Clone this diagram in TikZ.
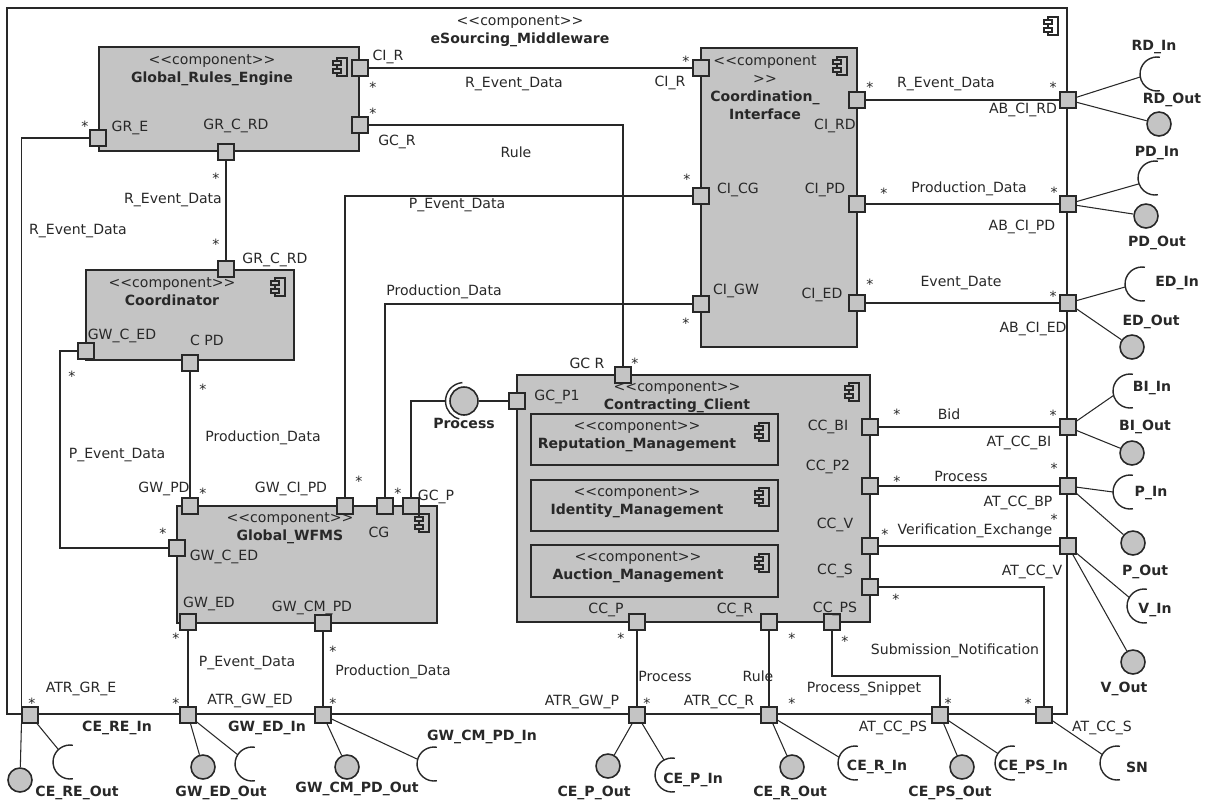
\documentclass[tikz,border=0pt]{standalone}
\usepackage{fontspec}
\setmainfont{DejaVu Sans}
\usetikzlibrary{fit,positioning}
\definecolor{umlgray}{RGB}{196,196,196}
\definecolor{umlline}{RGB}{40,40,40}
\newcommand{\stereo}[1]{<{}<#1>{}>}

\begin{document}
\begin{tikzpicture}[x=0.02cm,y=-0.02cm,
    every node/.style={font=\fontsize{8}{10.2}\selectfont,text=umlline},
    comp/.style={draw=umlline,fill=umlgray,line width=1pt,inner sep=0pt},
    port/.style={draw=umlline,fill=umlgray,line width=0.9pt,minimum size=0.31cm,inner sep=0pt},
    ball/.style={circle,draw=umlline,fill=umlgray,line width=0.9pt,minimum size=0.48cm,inner sep=0pt},
    ifc/.style={font=\fontsize{8}{10.2}\selectfont\bfseries,inner sep=1pt},
    mult/.style={inner sep=0pt,yshift=-1.6pt},
    link/.style={draw=umlline,line width=0.6pt},
    pics/compicon/.style={code={
      \draw[pic actions,draw=umlline,line width=0.8pt] (-4,-9) rectangle (6,9);
      \draw[pic actions,draw=umlline,line width=0.8pt] (-8,-6) rectangle (0,-2);
      \draw[pic actions,draw=umlline,line width=0.8pt] (-8,2) rectangle (0,6);}},
    pics/socket/.style={code={
      \draw[umlline,line width=0.8pt] (80:0.34cm) arc[start angle=80,end angle=280,radius=0.34cm];
      \coordinate (-tip) at (#1:0.34cm);}}]
  \useasboundingbox (0,0) rectangle (1213,802);

  % Rahmen eSourcing_Middleware
  \node[comp,fill=white,line width=0.6pt,fit={(7,8) (1067,714)}] (mw) {};
  \node[align=center] (mwT) at (520,31) {\stereo{component}\\\textbf{eSourcing\_Middleware}};
  \pic[fill=white] at (1052,26) {compicon};

  % Komponenten
  \node[comp,fit={(99,47) (359,151)}] (gre) {};
  \node[align=center] (greT) at (212,70) {\stereo{component}\\\textbf{Global\_Rules\_Engine}};
  \pic[fill=umlgray] at (341,67) {compicon};

  \node[comp,fit={(86,270) (294,360)}] (crd) {};
  \node[align=center] (crdT) at (172,292) {\stereo{component}\\\textbf{Coordinator}};
  \pic[fill=umlgray] at (279,287) {compicon};

  \node[comp,fit={(701,48) (857,347)}] (ci) {};
  \node[align=center] (ciT) at (765,88) {<{}<component\\>{}>\\\textbf{Coordination\_}\\\textbf{Interface}};
  \pic[fill=umlgray] at (841,66) {compicon};

  \node[comp,fit={(177,506) (437,623)}] (gw) {};
  \node[align=center] (gwT) at (290,528) {\stereo{component}\\\textbf{Global\_WFMS}};
  \pic[fill=umlgray] at (423,523) {compicon};

  \node[comp,fit={(517,375) (870,622)}] (cc) {};
  \node[align=center] (ccT) at (677,397) {\stereo{component}\\\textbf{Contracting\_Client}};
  \pic[fill=umlgray] at (853,392) {compicon};

  \node[comp,fit={(531,414) (778,465)}] (rep) {};
  \node[align=center] (repT) at (637,436) {\stereo{component}\\\textbf{Reputation\_Management}};
  \pic[fill=umlgray] at (763,432) {compicon};
  \node[comp,fit={(531,480) (778,531)}] (idm) {};
  \node[align=center] (idmT) at (637,502) {\stereo{component}\\\textbf{Identity\_Management}};
  \pic[fill=umlgray] at (763,497) {compicon};
  \node[comp,fit={(531,545) (778,597)}] (auc) {};
  \node[align=center] (aucT) at (638,567) {\stereo{component}\\\textbf{Auction\_Management}};
  \pic[fill=umlgray] at (763,563) {compicon};

  % Ports
  \node[port] (greCIR) at (360,68) {};
  \node[port] (greGCR) at (360,125) {};
  \node[port] (greGRE) at (98,138) {};
  \node[port] (greGRCRD) at (226,152) {};
  \node[port] (crdGRCRD) at (226,269) {};
  \node[port] (crdGWCED) at (86,351) {};
  \node[port] (crdCPD) at (190,363) {};
  \node[port] (ciCIR) at (701,68) {};
  \node[port] (ciCG) at (701,196) {};
  \node[port] (ciGW) at (701,304) {};
  \node[port] (ciRD) at (857,100) {};
  \node[port] (ciPD) at (857,204) {};
  \node[port] (ciED) at (857,303) {};
  \node[port] (gwPD) at (190,506) {};
  \node[port] (gwCIPD) at (345,506) {};
  \node[port] (gwCG) at (385,506) {};
  \node[port] (gwGCP) at (411,506) {};
  \node[port] (gwCED) at (177,548) {};
  \node[port] (gwED) at (188,622) {};
  \node[port] (gwCMPD) at (323,623) {};
  \node[port] (ccGCR) at (623,375) {};
  \node[port] (ccGCP1) at (517,401) {};
  \node[port] (ccBI) at (870,427) {};
  \node[port] (ccP2) at (870,486) {};
  \node[port] (ccV) at (870,546) {};
  \node[port] (ccS) at (870,587) {};
  \node[port] (ccPS) at (832,622) {};
  \node[port] (ccP) at (637,622) {};
  \node[port] (ccR) at (769,622) {};
  % Ports am Rahmen
  \node[port] (abRD) at (1068,100) {};
  \node[port] (abPD) at (1068,204) {};
  \node[port] (abED) at (1068,303) {};
  \node[port] (atBI) at (1068,427) {};
  \node[port] (atBP) at (1068,486) {};
  \node[port] (atV) at (1068,546) {};
  \node[port] (atS) at (1044,715) {};
  \node[port] (atPS) at (940,715) {};
  \node[port] (atrCCR) at (769,715) {};
  \node[port] (atrGWP) at (637,715) {};
  \node[port] (atrGWCMPD) at (323,715) {};
  \node[port] (atrGWED) at (188,715) {};
  \node[port] (atrGRE) at (30,715) {};

  % Verbindungen innen
  \draw[link] (greCIR) -- (ciCIR);
  \draw[link] (greGCR) -| (ccGCR);
  \draw[link] (greGRE) -| (atrGRE.north west);
  \draw[link] (greGRCRD) -- (crdGRCRD);
  \draw[link] (crdGWCED) -- ++(-26,0) |- (gwCED);
  \draw[link] (crdCPD) -- (gwPD);
  \draw[link] (gwCIPD) |- (ciCG);
  \draw[link] (gwCG) |- (ciGW);
  \draw[link] (ciRD) -- (abRD);
  \draw[link] (ciPD) -- (abPD);
  \draw[link] (ciED) -- (abED);
  \draw[link] (ccBI) -- (atBI);
  \draw[link] (ccP2) -- (atBP);
  \draw[link] (ccV) -- (atV);
  \draw[link] (ccS) -| (atS);
  \draw[link] (ccPS) -- ++(0,54) -| (atPS);
  \draw[link] (ccR) -- (atrCCR);
  \draw[link] (ccP) -- (atrGWP);
  \draw[link] (gwCMPD) -- (atrGWCMPD);
  \draw[link] (gwED) -- (atrGWED);

  % Process (ball and socket)
  \node[ball,minimum size=0.56cm] (procBall) at (464,401) {};
  \draw[umlline,line width=0.8pt] ([shift={(95:0.37cm)}]procBall.center) arc[start angle=95,end angle=255,radius=0.37cm];
  \coordinate (procTip) at ([shift={(180:0.37cm)}]procBall.center);
  \draw[link] (gwGCP) |- (procTip);
  \draw[link] (procBall) -- (ccGCP1);

  % angebotene und benoetigte Schnittstellen
  \foreach \bx/\by/\bn in {1159/124/rdOut,1146/216/pdOut,1132/347/edOut,1132/453/biOut,
      1133/543/pOut,1133/662/vOut,962/767/cepsOut,792/767/cerOut,608/766/cepOut,
      347/767/gwcmpdOut,203/767/gwedOut,20/780/cereOut}
    \node[ball] (\bn) at (\bx,\by) {};
  \foreach \sx/\sy/\sa/\sn in {1157/74/190/rdIn,1155/178/200/pdIn,1142/284/190/edIn,
      1130/391/195/biIn,1130/492/180/pIn,1144/606/150/vIn,1117/763/150/snIn,
      1012/763/146/cepsIn,855/763/160/cerIn,672/775/118/cepIn,434/764/164/gwcmpdIn,
      252/764/147/gwedIn,70/762/133/cereIn}
    \pic (\sn) at (\sx,\sy) {socket=\sa};

  \draw[link] (abRD) -- (rdIn-tip);  \draw[link] (abRD) -- (rdOut);
  \draw[link] (abPD) -- (pdIn-tip);  \draw[link] (abPD) -- (pdOut);
  \draw[link] (abED) -- (edIn-tip);  \draw[link] (abED) -- (edOut);
  \draw[link] (atBI) -- (biIn-tip);  \draw[link] (atBI) -- (biOut);
  \draw[link] (atBP) -- (pIn-tip);   \draw[link] (atBP) -- (pOut);
  \draw[link] (atV) -- (vIn-tip);    \draw[link] (atV) -- (vOut);
  \draw[link] (atS) -- (snIn-tip);
  \draw[link] (atPS) -- (cepsIn-tip); \draw[link] (atPS) -- (cepsOut);
  \draw[link] (atrCCR) -- (cerIn-tip); \draw[link] (atrCCR) -- (cerOut);
  \draw[link] (atrGWP) -- (cepIn-tip); \draw[link] (atrGWP) -- (cepOut);
  \draw[link] (atrGWCMPD) -- (gwcmpdIn-tip); \draw[link] (atrGWCMPD) -- (gwcmpdOut);
  \draw[link] (atrGWED) -- (gwedIn-tip); \draw[link] (atrGWED) -- (gwedOut);
  \draw[link] (atrGRE) -- (cereIn-tip); \draw[link] (atrGRE.south west) -- (cereOut);

  % Portnamen
  \foreach \lx/\ly/\lt [count=\i] in {388/57/CI\_R,397/142/GC\_R,130/128/GR\_E,236/126/GR\_C\_RD,
      275/260/GR\_C\_RD,122/336/GW\_C\_ED,207/340/C PD,164/489/GW\_PD,291/489/GW\_CI\_PD,
      379/532/CG,436/497/GC\_P,224/557/GW\_C\_ED,209/604/GW\_ED,312/608/GW\_CM\_PD,
      587/363/GC R,557/397/GC\_P1,828/427/CC\_BI,828/467/CC\_P2,835/525/CC\_V,835/571/CC\_S,
      835/609/CC\_PS,606/610/CC\_P,735/610/CC\_R,670/83/CI\_R,738/190/CI\_CG,736/291/CI\_GW,
      835/126/CI\_RD,825/190/CI\_PD,822/295/CI\_ED,1023/110/AB\_CI\_RD,1022/227/AB\_CI\_PD,
      1033/329/AB\_CI\_ED,1019/443/AT\_CC\_BI,1018/503/AT\_CC\_BP,1032/572/AT\_CC\_V,
      1102/728/AT\_CC\_S,893/728/AT\_CC\_PS,719/702/ATR\_CC\_R,582/702/ATR\_GW\_P,
      250/701/ATR\_GW\_ED,81/689/ATR\_GR\_E}
    \node[inner sep=1pt] (pl\i) at (\lx,\ly) {\lt};

  % Beschriftung der Verbindungen
  \foreach \lx/\ly/\lt [count=\i] in {173/200/R\_Event\_Data,78/231/R\_Event\_Data,
      514/84/R\_Event\_Data,946/84/R\_Event\_Data,516/152/Rule,758/676/Rule,
      457/205/P\_Event\_Data,117/455/P\_Event\_Data,247/663/P\_Event\_Data,
      444/292/Production\_Data,263/438/Production\_Data,393/672/Production\_Data,
      969/189/Production\_Data,961/283/Event\_Date,949/414/Bid,961/476/Process,
      665/676/Process,975/531/Verification\_Exchange,955/651/Submission\_Notification,
      864/689/Process\_Snippet}
    \node[inner sep=1pt] (cl\i) at (\lx,\ly) {\lt};

  % Schnittstellennamen
  \foreach \lx/\ly/\lt [count=\i] in {1154/47/RD\_In,1172/100/RD\_Out,1157/153/PD\_In,
      1157/243/PD\_Out,1177/283/ED\_In,1151/322/ED\_Out,1152/388/BI\_In,1145/427/BI\_Out,
      1151/493/P\_In,1145/572/P\_Out,1155/610/V\_In,1124/689/V\_Out,1137/767/SN,
      1033/767/CE\_PS\_In,950/793/CE\_PS\_Out,877/767/CE\_R\_In,790/793/CE\_R\_Out,
      693/780/CE\_P\_In,594/793/CE\_P\_Out,482/737/GW\_CM\_PD\_In,357/789/GW\_CM\_PD\_Out,
      267/728/GW\_ED\_In,221/793/GW\_ED\_Out,117/728/CE\_RE\_In,77/793/CE\_RE\_Out,
      464/423/Process}
    \node[ifc] (il\i) at (\lx,\ly) {\lt};

  % Multiplizitaeten
  \foreach \mx/\my [count=\i] in {373/84,373/110,85/123,216/175,216/241,72/373,203/386,
      203/490,359/478,398/490,163/530,176/635,333/648,686/58,687/176,686/320,635/360,
      870/84,884/190,870/281,1053/84,1054/189,1053/293,897/411,1053/412,897/478,1054/465,
      885/531,1054/516,896/596,845/638,621/635,792/635,647/700,792/700,948/700,1028/700,
      333/700,176/700,32/700}
    \node[mult] (st\i) at (\mx,\my) {*};
\end{tikzpicture}
\end{document}
